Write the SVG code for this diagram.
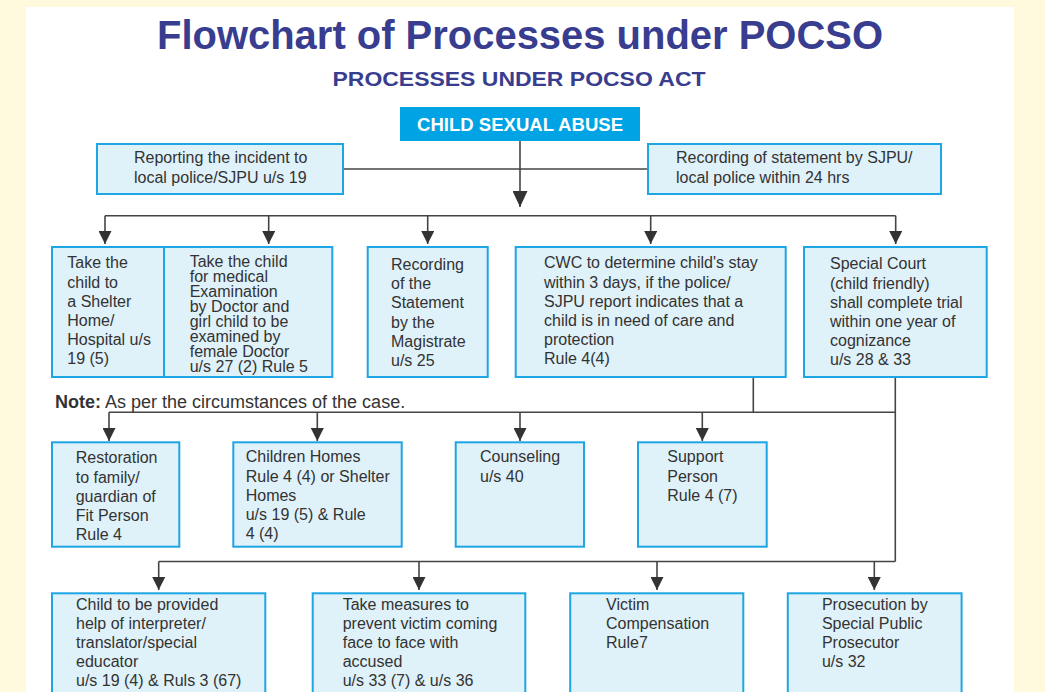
<svg xmlns="http://www.w3.org/2000/svg" width="1045" height="692" viewBox="0 0 1045 692">
<style>
.box{fill:#dff1f9;stroke:#1ea5e3;stroke-width:2}
.t{font-family:"Liberation Sans",Arial,sans-serif;font-size:16px;fill:#333}
.ln{fill:none;stroke:#444;stroke-width:1.6}
</style>
<defs>
<marker id="big" viewBox="0 0 16 15" refX="16" refY="7.5" markerWidth="16" markerHeight="15" markerUnits="userSpaceOnUse" orient="auto"><path d="M0,0 L16,7.5 L0,15 z" fill="#333"/></marker>
<marker id="sm" viewBox="0 0 13 13" refX="13" refY="6.5" markerWidth="13" markerHeight="13" markerUnits="userSpaceOnUse" orient="auto"><path d="M0,0 L13,6.5 L0,13 z" fill="#333"/></marker>
</defs>
<rect width="1045" height="692" fill="#fff9dd"/>
<rect x="26" y="7" width="988" height="700" fill="#fff"/>
<text x="520" y="49" text-anchor="middle" font-family="Liberation Sans,Arial,sans-serif" font-weight="bold" font-size="41" fill="#383d8f" textLength="726" lengthAdjust="spacingAndGlyphs">Flowchart of Processes under POCSO</text>
<text x="519" y="86" text-anchor="middle" font-family="Liberation Sans,Arial,sans-serif" font-weight="bold" font-size="20" fill="#383d8f" textLength="373" lengthAdjust="spacingAndGlyphs">PROCESSES UNDER POCSO ACT</text>

<g id="connectors">
<path class="ln" d="M520,141 V207" marker-end="url(#big)"/>
<path class="ln" d="M343,169 H648"/>
<path class="ln" d="M105,215.7 H895.7"/>
<path class="ln" d="M105,215.7 V244" marker-end="url(#sm)"/>
<path class="ln" d="M268.7,215.7 V244" marker-end="url(#sm)"/>
<path class="ln" d="M427.7,215.7 V244" marker-end="url(#sm)"/>
<path class="ln" d="M650.7,215.7 V244" marker-end="url(#sm)"/>
<path class="ln" d="M895.7,215.7 V244" marker-end="url(#sm)"/>
<path class="ln" d="M753.3,377 V412.3"/>
<path class="ln" d="M895.3,377 V561.5"/>
<path class="ln" d="M109,412.3 H895.3"/>
<path class="ln" d="M109,412.3 V441" marker-end="url(#sm)"/>
<path class="ln" d="M317.3,412.3 V441" marker-end="url(#sm)"/>
<path class="ln" d="M520,412.3 V441" marker-end="url(#sm)"/>
<path class="ln" d="M702.3,412.3 V441" marker-end="url(#sm)"/>
<path class="ln" d="M158.7,561.5 H895.3"/>
<path class="ln" d="M158.7,561.5 V590" marker-end="url(#sm)"/>
<path class="ln" d="M419,561.5 V590" marker-end="url(#sm)"/>
<path class="ln" d="M657,561.5 V590" marker-end="url(#sm)"/>
<path class="ln" d="M874.3,561.5 V590" marker-end="url(#sm)"/>
</g>

<g id="csa">
<rect x="400" y="107" width="240" height="34" fill="#00a3e3"/>
<text x="520" y="131" text-anchor="middle" font-family="Liberation Sans,Arial,sans-serif" font-weight="bold" font-size="18.5" fill="#fff" textLength="206" lengthAdjust="spacingAndGlyphs">CHILD SEXUAL ABUSE</text>
</g>

<g id="reporting">
<rect class="box" x="97" y="144" width="246" height="50"/>
<text class="t" x="134" y="163.3">Reporting the incident to</text>
<text class="t" x="134" y="182.7">local police/SJPU u/s 19</text>
</g>

<g id="recording-sjpu">
<rect class="box" x="648" y="144" width="293" height="50"/>
<text class="t" x="676" y="163.3">Recording of statement by SJPU/</text>
<text class="t" x="676" y="182.7">local police within 24 hrs</text>
</g>

<g id="shelter">
<rect class="box" x="52" y="247" width="112" height="130"/>
<text class="t" x="67.3"><tspan x="67.3" y="268.3">Take the</tspan><tspan x="67.3" y="287.5">child to</tspan><tspan x="67.3" y="306.7">a Shelter</tspan><tspan x="67.3" y="325.9">Home/</tspan><tspan x="67.3" y="345.1">Hospital u/s</tspan><tspan x="67.3" y="364.3">19 (5)</tspan></text>
</g>

<g id="medical">
<rect class="box" x="164" y="247" width="168.3" height="130"/>
<text class="t"><tspan x="189.7" y="266.7">Take the child</tspan><tspan x="189.7" y="281.8">for medical</tspan><tspan x="189.7" y="296.9">Examination</tspan><tspan x="189.7" y="312">by Doctor and</tspan><tspan x="189.7" y="327.1">girl child to be</tspan><tspan x="189.7" y="342.2">examined by</tspan><tspan x="189.7" y="357.3">female Doctor</tspan><tspan x="189.7" y="372.4">u/s 27 (2) Rule 5</tspan></text>
</g>

<g id="magistrate">
<rect class="box" x="367.7" y="247" width="120" height="130"/>
<text class="t"><tspan x="391" y="270">Recording</tspan><tspan x="391" y="289.2">of the</tspan><tspan x="391" y="308.4">Statement</tspan><tspan x="391" y="327.6">by the</tspan><tspan x="391" y="346.8">Magistrate</tspan><tspan x="391" y="366">u/s 25</tspan></text>
</g>

<g id="cwc">
<rect class="box" x="515.7" y="247" width="270" height="130"/>
<text class="t"><tspan x="544" y="268.3">CWC to determine child's stay</tspan><tspan x="544" y="287.5">within 3 days, if the police/</tspan><tspan x="544" y="306.7">SJPU report indicates that a</tspan><tspan x="544" y="325.9">child is in need of care and</tspan><tspan x="544" y="345.1">protection</tspan><tspan x="544" y="364.3">Rule 4(4)</tspan></text>
</g>

<g id="special-court">
<rect class="box" x="804" y="247" width="182.7" height="130"/>
<text class="t"><tspan x="830" y="269.3">Special Court</tspan><tspan x="830" y="288.5">(child friendly)</tspan><tspan x="830" y="307.7">shall complete trial</tspan><tspan x="830" y="326.9">within one year of</tspan><tspan x="830" y="346.1">cognizance</tspan><tspan x="830" y="365.3">u/s 28 &amp; 33</tspan></text>
</g>

<g id="note">
<text x="55" y="408.3" font-family="Liberation Sans,Arial,sans-serif" font-size="18" fill="#333"><tspan font-weight="bold">Note:</tspan> As per the circumstances of the case.</text>
</g>

<g id="restoration">
<rect class="box" x="52" y="442.3" width="127.3" height="104.4"/>
<text class="t"><tspan x="75.7" y="463.3">Restoration</tspan><tspan x="75.7" y="482.5">to family/</tspan><tspan x="75.7" y="501.7">guardian of</tspan><tspan x="75.7" y="520.9">Fit Person</tspan><tspan x="75.7" y="540.1">Rule 4</tspan></text>
</g>

<g id="children-homes">
<rect class="box" x="233.3" y="442.3" width="168.4" height="104.4"/>
<text class="t"><tspan x="245.7" y="462.3">Children Homes</tspan><tspan x="245.7" y="481.5">Rule 4 (4) or Shelter</tspan><tspan x="245.7" y="500.7">Homes</tspan><tspan x="245.7" y="519.9">u/s 19 (5) &amp; Rule</tspan><tspan x="245.7" y="539.1">4 (4)</tspan></text>
</g>

<g id="counseling">
<rect class="box" x="455.7" y="442.3" width="128.3" height="104.4"/>
<text class="t"><tspan x="480" y="462.3">Counseling</tspan><tspan x="480" y="481.5">u/s 40</tspan></text>
</g>

<g id="support">
<rect class="box" x="638" y="442.3" width="128.7" height="104.4"/>
<text class="t"><tspan x="667.3" y="462.3">Support</tspan><tspan x="667.3" y="481.5">Person</tspan><tspan x="667.3" y="500.7">Rule 4 (7)</tspan></text>
</g>

<g id="interpreter">
<rect class="box" x="52" y="593.3" width="213.3" height="110"/>
<text class="t"><tspan x="76" y="609.5">Child to be provided</tspan><tspan x="76" y="628.7">help of interpreter/</tspan><tspan x="76" y="647.9">translator/special</tspan><tspan x="76" y="667.1">educator</tspan><tspan x="76" y="686.3">u/s 19 (4) &amp; Ruls 3 (67)</tspan></text>
</g>

<g id="measures">
<rect class="box" x="312.7" y="593.3" width="212.6" height="110"/>
<text class="t"><tspan x="342.7" y="609.5">Take measures to</tspan><tspan x="342.7" y="628.7">prevent victim coming</tspan><tspan x="342.7" y="647.9">face to face with</tspan><tspan x="342.7" y="667.1">accused</tspan><tspan x="342.7" y="686.3">u/s 33 (7) &amp; u/s 36</tspan></text>
</g>

<g id="compensation">
<rect class="box" x="570.2" y="593.3" width="173.1" height="110"/>
<text class="t"><tspan x="606" y="609.5">Victim</tspan><tspan x="606" y="628.7">Compensation</tspan><tspan x="606" y="647.9">Rule7</tspan></text>
</g>

<g id="prosecution">
<rect class="box" x="787.8" y="593.3" width="173.8" height="110"/>
<text class="t"><tspan x="821.9" y="609.5">Prosecution by</tspan><tspan x="821.9" y="628.7">Special Public</tspan><tspan x="821.9" y="647.9">Prosecutor</tspan><tspan x="821.9" y="667.1">u/s 32</tspan></text>
</g>
</svg>
